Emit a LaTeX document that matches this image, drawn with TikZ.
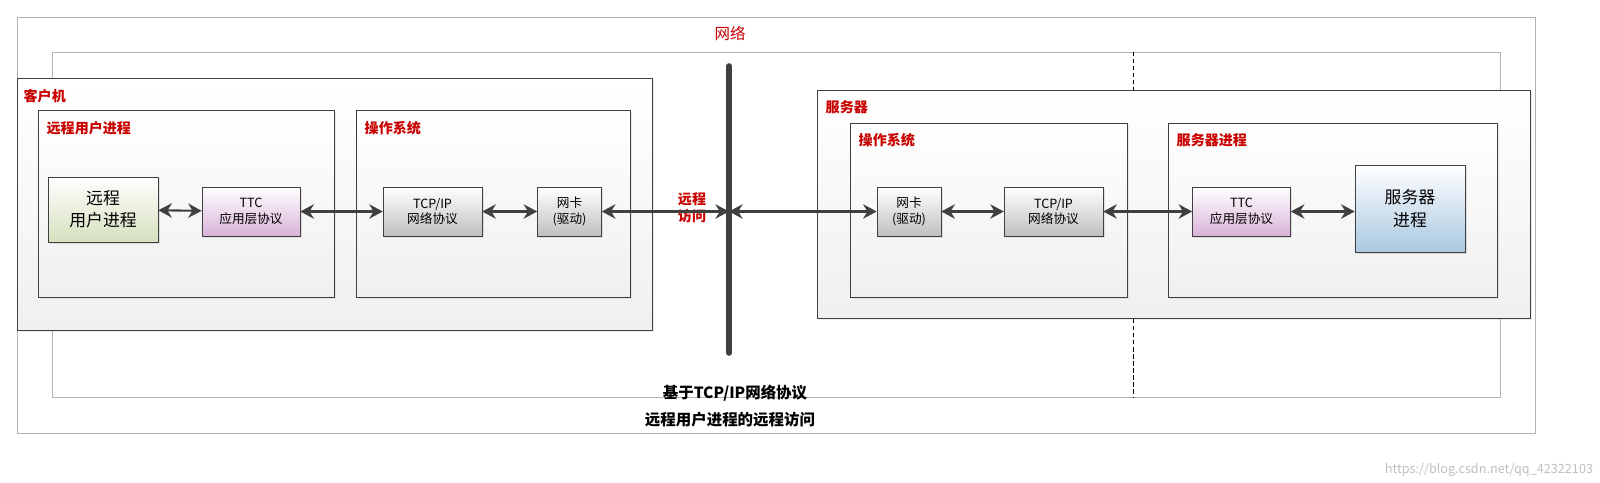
\documentclass[tikz,border=0pt]{standalone}
\usepackage{fontspec}
\setmainfont{Noto Sans CJK SC}
\usetikzlibrary{positioning, arrows.meta, shadows}
\definecolor{lblred}{RGB}{200,0,0}
\definecolor{darkline}{RGB}{64,64,64}
\definecolor{userfill}{RGB}{214,224,190}
\definecolor{srvfill}{RGB}{170,200,225}
\tikzset{
  frame/.style={draw=darkline, top color=white, bottom color=black!6, drop shadow={shadow xshift=0.6mm, shadow yshift=-0.6mm, opacity=0.15}},
  unit/.style={draw=darkline, minimum height=1.22cm, align=center, font=\fontsize{9}{11}\selectfont, drop shadow={shadow xshift=0.4mm, shadow yshift=-0.4mm, opacity=0.2}},
  ttc/.style={unit, top color=white, bottom color=violet!30, minimum width=2.45cm},
  tcp/.style={unit, top color=white, bottom color=black!25, minimum width=2.47cm},
  nic/.style={unit, top color=white, bottom color=black!25, minimum width=1.6cm},
  title/.style={anchor=north west, text=lblred, font=\bfseries\fontsize{10}{12}\selectfont, inner sep=1pt},
  link/.style={{Stealth[length=3.4mm,width=3.6mm]}-{Stealth[length=3.4mm,width=3.6mm]}, draw=darkline, line width=1.5pt},
  wire/.style={link, line width=2.6pt}
}
\begin{document}
\begin{tikzpicture}[x=0.025cm, y=-0.025cm]
    \useasboundingbox (0,0) rectangle (1600,482);

    % Outer frames
    \draw[black!30] (17,17) rectangle (1535,433);
    \draw[black!30] (52,52) rectangle (1500,397);
    \node[text=lblred, font=\fontsize{11}{13}\selectfont] (net) at (730,34) {网络};
    \draw[densely dashed] (1133,52) -- (1133,397);

    % Client
    \draw[frame] (17,78) rectangle (652,330);
    \node[title] (clientlbl) at (22,88) {客户机};
    \draw[frame] (38,110) rectangle (334,297);
    \node[title] at (45,120) {远程用户进程};
    \draw[frame] (356,110) rectangle (630,297);
    \node[title] at (363,120) {操作系统};

    \node[unit, top color=white, bottom color=userfill, minimum width=2.75cm, minimum height=1.62cm, font=\fontsize{12}{16}\selectfont] (userproc) at (103,209.5) {远程\\用户进程};
    \node[ttc] (cttc) at (251,211.5) {TTC\\应用层协议};
    \node[tcp] (ctcp) at (432.5,211.5) {TCP/IP\\网络协议};
    \node[nic] (cnic) at (569.5,211.5) {网卡\\(驱动)};

    % Network bar
    \coordinate (bartop) at (729,66);
    \coordinate (barbot) at (729,353);
    \coordinate (barmid) at (729,209);
    \draw[darkline, line width=4pt, line cap=round] (bartop) -- (barbot);
    \node[text=lblred, font=\bfseries\fontsize{10}{12}\selectfont, align=center] (access) at (692,208) {远程\\访问};

    % Server
    \draw[frame] (817,90) rectangle (1530,318);
    \node[title] at (824,99) {服务器};
    \draw[frame] (850,123) rectangle (1127,297);
    \node[title] at (857,132) {操作系统};
    \draw[frame] (1168,123) rectangle (1497,297);
    \node[title] at (1175,132) {服务器进程};

    \node[nic] (snic) at (909,211.5) {网卡\\(驱动)};
    \node[tcp] (stcp) at (1053.5,211.5) {TCP/IP\\网络协议};
    \node[ttc] (sttc) at (1241.5,211.5) {TTC\\应用层协议};
    \node[unit, top color=white, bottom color=srvfill, minimum width=2.75cm, minimum height=2.17cm, font=\fontsize{12}{16}\selectfont] (srvproc) at (1410,208.5) {服务器\\进程};

    % Connectors
    \draw[link] (userproc) -- (cttc);
    \draw[link] (cttc) -- (ctcp);
    \draw[link] (ctcp) -- (cnic);
    \draw[wire] (cnic.east) -- (cnic.east -| barmid);
    \draw[wire] (snic.west -| barmid) -- (snic.west);
    \draw[link] (snic) -- (stcp);
    \draw[link] (stcp) -- (sttc);
    \draw[link] (sttc) -- (srvproc.west |- sttc);

    % Caption
    \node[font=\bfseries\fontsize{11}{13}\selectfont] (cap1) at (735,393) {基于TCP/IP网络协议};
    \node[font=\bfseries\fontsize{11}{13}\selectfont] (cap2) at (730,420) {远程用户进程的远程访问};
    \node[anchor=east, text=black!25, font=\fontsize{9}{11}\selectfont] (mark) at (1598,470) {https://blog.csdn.net/qq\_42322103};
\end{tikzpicture}
\end{document}
